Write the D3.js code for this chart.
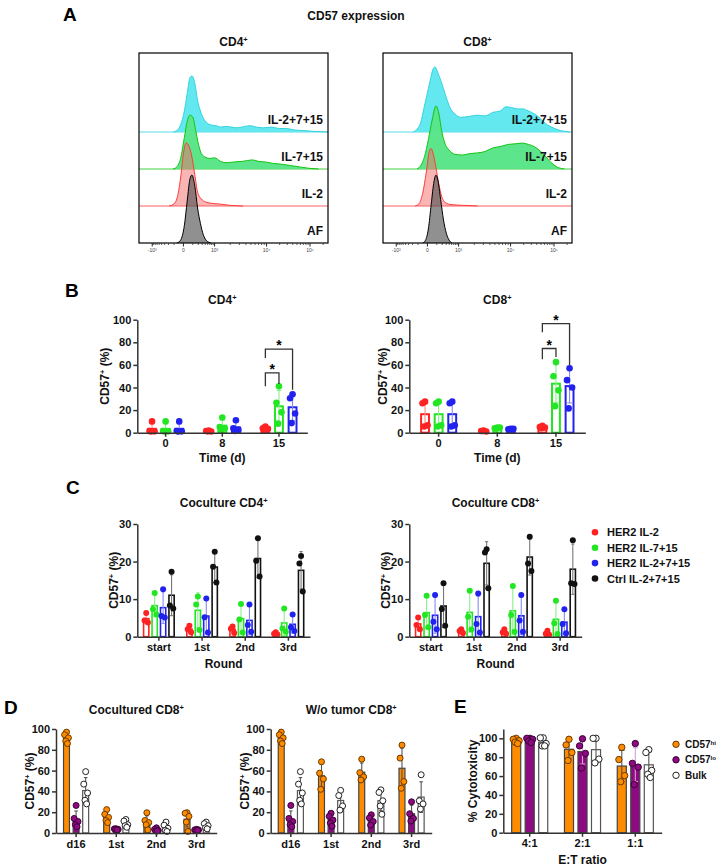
<!DOCTYPE html>
<html>
<head>
<meta charset="utf-8">
<title>CD57 expression</title>
<script src="https://d3js.org/d3.v7.min.js"></script>
<style>
  body { margin: 0; background: #fff; }
  svg { font-family: "Liberation Sans", Arial, sans-serif; }
  .axis path, .axis line { stroke: #333; stroke-width: 1.5; }
  .axis text { font-size: 11px; font-weight: bold; fill: #111; font-family: "Liberation Sans", Arial, sans-serif; }
  .ttl { font-size: 12px; font-weight: bold; fill: #111; }
  .letter { font-size: 19px; font-weight: bold; fill: #000; }
  .leg { font-size: 11px; font-weight: bold; fill: #111; }
  .leg-e { font-size: 10px; font-weight: bold; fill: #111; }
</style>
</head>
<body>
<script>
// ---------- A: histograms, x in display channel (0-100), height in % of mode
var histLabels = ['IL-2+7+15', 'IL-7+15', 'IL-2', 'AF'];
var histTickPos = [7, 23.5, 40, 67.5, 90.5];
var histTickText = ['-10\u00b3', '0', '10\u00b3', '10\u2074', '10\u2075'];

var cd4Combo = [[18,0],[20,2],[22,10],[24,30],[25.5,55],[27,78],[28,80],[29.5,70],[31,45],[32.5,30],[34,20],[36,13],[38,10],[41,9],[43,7],[46,8],[49,7],[52,6],[56,8],[59,9],[62,7],[66,6],[70,7],[74,5],[78,5],[82,3],[87,2],[92,1],[100,0]];
var cd4Il715 = [[18,0],[20,3],[22,15],[24,45],[25.5,68],[27,77],[28.5,74],[30,55],[31.5,35],[33,22],[35,17],[37.5,15],[40,16],[41.5,14],[43,11],[46,9],[50,10],[55,11],[60,13],[63,11],[67,10],[71,8],[75,7],[80,5],[85,3],[90,1],[95,0]];
var cd4Il2 = [[16,0],[18,2],[20,10],[22,40],[23.5,75],[25,90],[26.5,85],[28,70],[29.5,45],[31,20],[33,10],[35,6],[38,4],[42,3],[48,1],[55,0]];
var cd4Af = [[20,0],[22,4],[24,25],[25.5,60],[27,92],[28,97],[29.5,82],[31,50],[32.5,28],[34,12],[35.5,4],[37,1],[38,0]];

var cd8Combo = [[16,0],[18,4],[20,14],[21.5,32],[23,50],[25,74],[26.5,90],[27.5,93],[29,85],[30.5,74],[32,62],[34,45],[36,32],[38,26],[41,21],[45,22],[50,24],[54,23],[58,28],[62,30],[65,36],[68,35],[71,33],[74,33],[77,30],[80,26],[83,20],[86,12],[90,6],[94,2],[99,0]];
var cd8Il715 = [[18,0],[20,5],[22,18],[24,42],[26,70],[28,90],[29.5,80],[31,55],[33,35],[35,27],[38,21],[42,20],[46,22],[50,23],[54,25],[58,30],[62,32],[66,35],[70,36],[74,37],[77,35],[80,32],[83,26],[86,18],[89,9],[92,3],[96,0]];
var cd8Il2 = [[17,0],[19,3],[21,18],[23,50],[24.5,78],[25.5,82],[26.5,75],[28,55],[29.5,32],[31,14],[33,5],[36,2],[42,1],[50,0]];
var cd8Af = [[21,0],[22.5,4],[24,20],[25.5,55],[27,88],[28,97],[29,90],[30.5,62],[32,33],[33.5,14],[35,4],[36.5,0]];

// ---------- B: CD57+ (%) by day
var days = ['0', '8', '15'];
var bCd4Il2 = [[10, 1.5, 1.2, 1.0], [2, 1.5, 1, 1.2], [5.5, 4, 3.5, 2.5]];
var bCd4Il715 = [[10, 1.5, 1.2, 1.0], [13.5, 5, 4, 2.5], [41, 26.5, 18, 8]];
var bCd4Combo = [[10, 1.5, 1.2, 1.0], [11, 4, 2.5, 1.5], [34, 30.5, 17, 8.5]];
var bCd8Il2 = [[27.5, 26, 6.5, 5.5], [2, 1.5, 1, 1.5], [6, 5, 4.5, 4]];
var bCd8Il715 = [[27.5, 26, 6.5, 5.5], [4.5, 4, 4.5, 3.5], [62.5, 50, 37.5, 23.5]];
var bCd8Combo = [[27.5, 26, 6.5, 5.5], [3.5, 3, 3.5, 2.5], [57, 46.5, 40, 21.5]];
// brackets: day, from series, to series, level, left leg end, right leg end
var bSigCd4 = [['15', 0, 1, 53, 41, 43], ['15', 0, 2, 74, 66, 38]];
var bSigCd8 = [['15', 0, 1, 74.5, 65, 67], ['15', 0, 2, 96.5, 89, 60]];

// ---------- C: coculture rounds
var rounds = ['start', '1st', '2nd', '3rd'];
var cGroups = ['HER2 IL-2', 'HER2 IL-7+15', 'HER2 IL-2+7+15', 'Ctrl IL-2+7+15'];
var cCd4Il2 = [[6.3, 4.3, 3.8], [2.9, 2.0, 1.2], [2.7, 2.1, 1.0], [1.2, 0.8, 0.6]];
var cCd4Il715 = [[11.6, 7.3, 5.9], [10.7, 8.6, 1.8], [8.7, 4.6, 1.1], [7.5, 2.2, 1.3]];
var cCd4Combo = [[12.6, 5.5, 5.1], [10.2, 5.2, 1.1], [8.6, 3.1, 1.3], [5.9, 2.5, 1.5]];
var cCd4Ctrl = [[17.3, 8.3, 7.5], [22.6, 18.6, 14.4], [26.2, 20.2, 16.0], [21.5, 19.5, 12.0]];
var cCd8Il2 = [[5.1, 3.1, 2.0], [2.0, 1.5, 1.0], [2.0, 1.2, 0.8], [1.6, 0.8, 0.5]];
var cCd8Il715 = [[10.9, 5.8, 2.5], [12.2, 5.3, 1.9], [13.5, 5.8, 1.3], [9.6, 3.6, 0.7]];
var cCd8Combo = [[11.1, 4.0, 2.0], [11.5, 3.4, 1.1], [11.1, 4.3, 1.3], [7.3, 3.4, 0.9]];
var cCd8Ctrl = [[14.2, 7.4, 2.9], [23.3, 22.4, 12.9], [26.6, 19.5, 17.5], [25.7, 14.2, 14.0]];

// ---------- D: sorted CD57hi / CD57lo / bulk
var dRounds = ['d16', '1st', '2nd', '3rd'];
var dCoHi = [[97, 94.5, 91.5, 88.5, 86], [22.5, 18, 15, 12, 10], [19.5, 12, 10, 8, 3], [19.5, 19, 16, 10.5, 1.5]];
var dCoLo = [[26.5, 14, 11, 8, 6], [4, 4, 3.5, 3.5, 3], [5, 3.5, 2.5, 2, 2], [3.5, 3, 3, 2.5, 2.5]];
var dCoBulk = [[59, 47, 38.5, 31.5, 28], [13, 11.5, 8, 7, 5.5], [10.5, 7.5, 4.5, 2.5, 1.5], [10.5, 9, 7, 5, 4]];
var dWoHi = [[97, 94.5, 91.5, 88.5, 86], [68.5, 57.5, 52, 42], [71, 58, 54, 51], [84.5, 72, 49.5, 43]];
var dWoLo = [[26.5, 14, 11, 8, 6], [19, 16, 12.5, 9.5, 6.5], [17.5, 14.5, 11, 7.5], [30, 18.5, 14, 11.5]];
var dWoBulk = [[59, 47, 38.5, 31.5, 28], [41, 36, 26, 22], [41.5, 39, 31, 26, 18], [56, 31, 28, 23]];

// ---------- E: cytotoxicity
var ratios = ['4:1', '2:1', '1:1'];
var eHi = [[100, 99, 97.5, 96, 94.5], [99, 93, 85, 76.5], [90.5, 77.5, 60.5, 54]];
var eLo = [[100, 100, 99, 97, 95.5], [99.5, 92, 84, 68.5], [94.5, 73.5, 69.5, 51]];
var eBulk = [[100.5, 100.5, 94.5, 92, 92], [100, 100, 78, 74], [88, 85, 66, 62, 58.5]];

var RED = '#ff2222', GREEN = '#22e622', BLUE = '#2222ee', BLACK = '#111';
var ORANGE = '#ff8c00', PURPLE = '#8e0a82';

var svg = d3.select('body').append('svg').attr('width', 718).attr('height', 868);

// text with a superscript part: parts = [[text, isSup], ...]
function richText(sel, parts) {
  parts.forEach(function (p) {
    var t = sel.append('tspan').text(p[0]);
    if (p[1]) t.attr('baseline-shift', 'super').attr('font-size', '0.62em');
  });
  return sel;
}

function label(x, y, parts, cls, anchor) {
  var t = svg.append('text').attr('class', cls || 'ttl').attr('x', x).attr('y', y)
    .attr('text-anchor', anchor || 'middle');
  return richText(t, parts);
}

// ================= A =================
var histStyles = [
  { fill: '#62e8ee', stroke: '#35d3e0', op: 1 },
  { fill: '#58e488', stroke: '#12c412', op: 0.97 },
  { fill: '#f46a6a', stroke: '#ff3b3b', op: 0.5 },
  { fill: '#555', stroke: '#000', op: 0.65 }
];

function histPanel(left, top, w, h, title, curves) {
  var x = d3.scaleLinear().domain([0, 100]).range([left, left + w]);
  var hy = d3.scaleLinear().domain([0, 100]).range([0, 70]);
  var step = 37, bottom = top + h;
  var g = svg.append('g');
  curves.forEach(function (c, i) {
    var base = bottom - (3 - i) * step;
    var st = histStyles[i];
    if (i < 3) {
      g.append('line').attr('x1', left).attr('x2', left + w).attr('y1', base).attr('y2', base)
        .attr('stroke', st.stroke).attr('stroke-width', 1).attr('opacity', 0.8);
    }
    var area = d3.area().x(function (d) { return x(d[0]); }).y0(base)
      .y1(function (d) { return base - hy(d[1]); }).curve(d3.curveMonotoneX);
    var line = d3.line().x(function (d) { return x(d[0]); })
      .y(function (d) { return base - hy(d[1]); }).curve(d3.curveMonotoneX);
    g.append('path').attr('d', area(c)).attr('fill', st.fill).attr('fill-opacity', st.op);
    g.append('path').attr('d', line(c)).attr('fill', 'none').attr('stroke', st.stroke).attr('stroke-width', 1);
    g.append('text').attr('x', left + w - 5).attr('y', base - 8).attr('text-anchor', 'end')
      .attr('class', 'ttl').text(histLabels[i]);
  });
  g.append('rect').attr('x', left).attr('y', top).attr('width', w).attr('height', h)
    .attr('fill', 'none').attr('stroke', '#000').attr('stroke-width', 1.2);

  // minor ticks on a log-like layout between the labelled positions
  var minor = [];
  [[23.5, 7], [23.5, 40], [40, 67.5], [67.5, 90.5], [90.5, 113.5]].forEach(function (p) {
    for (var k = 2; k <= 9; k++) {
      var v = p[0] + (p[1] - p[0]) * Math.log10(k);
      if (v > 0 && v < 100) minor.push(v);
    }
  });
  g.selectAll('.mn').data(minor).join('line').attr('x1', x).attr('x2', x)
    .attr('y1', bottom).attr('y2', bottom + 2).attr('stroke', '#333').attr('stroke-width', 0.8);
  g.selectAll('.mj').data(histTickPos).join('line').attr('x1', x).attr('x2', x)
    .attr('y1', bottom).attr('y2', bottom + 3.5).attr('stroke', '#222').attr('stroke-width', 1);
  g.selectAll('.tl').data(histTickPos).join('text').attr('x', x).attr('y', bottom + 9)
    .attr('text-anchor', 'middle').attr('font-size', '5px').attr('fill', '#444')
    .text(function (d, i) { return histTickText[i]; });
  label(left + w / 2, 46, [[title, false], ['+', true]]);
}

label(63, 21, [['A', false]], 'letter', 'start');
label(356, 19.5, [['CD57 expression', false]]);
histPanel(139, 53, 189, 190, 'CD4', [cd4Combo, cd4Il715, cd4Il2, cd4Af]);
histPanel(383, 53, 189, 190, 'CD8', [cd8Combo, cd8Il715, cd8Il2, cd8Af]);

// ================= bar charts =================
var jitterPattern = [0, -0.32, 0.32, -0.12, 0.16];

function barChart(o) {
  var g = svg.append('g');
  var x = d3.scaleBand().domain(o.cats).range([o.left, o.left + o.width]);
  var y = d3.scaleLinear().domain([0, o.yMax]).range([o.top + o.height, o.top]);
  var inner = d3.scaleBand().domain(d3.range(o.series.length))
    .range([-o.span / 2, o.span / 2]).padding(o.pad);
  var bw = inner.bandwidth();

  function cx(cat, si) { return x(cat) + x.bandwidth() / 2 + inner(si) + bw / 2; }

  o.series.forEach(function (s, si) {
    var rows = s.values.map(function (pts, ci) {
      return { cat: o.cats[ci], pts: pts, mean: d3.mean(pts), sd: d3.deviation(pts) };
    });
    var sg = g.append('g');
    sg.selectAll('rect').data(rows).join('rect')
      .attr('x', function (d) { return cx(d.cat, si) - bw / 2; })
      .attr('y', function (d) { return y(d.mean); })
      .attr('width', bw)
      .attr('height', function (d) { return y(0) - y(d.mean); })
      .attr('fill', s.fill).attr('stroke', s.stroke).attr('stroke-width', o.barStroke);

    var eg = sg.append('g').attr('stroke', s.err).attr('stroke-width', 1.1);
    rows.forEach(function (d) {
      var c = cx(d.cat, si);
      var lo = Math.max(0, d.mean - d.sd), hi = d.mean + d.sd;
      eg.append('line').attr('x1', c).attr('x2', c).attr('y1', y(lo)).attr('y2', y(hi));
      eg.append('line').attr('x1', c - bw * 0.3).attr('x2', c + bw * 0.3).attr('y1', y(hi)).attr('y2', y(hi));
      eg.append('line').attr('x1', c - bw * 0.3).attr('x2', c + bw * 0.3).attr('y1', y(lo)).attr('y2', y(lo));
    });

    rows.forEach(function (d) {
      sg.selectAll(null).data(d.pts).join('circle')
        .attr('cx', function (v, i) { return cx(d.cat, si) + jitterPattern[i % 5] * bw; })
        .attr('cy', function (v) { return y(v); })
        .attr('r', o.r)
        .attr('fill', s.dot).attr('stroke', s.dotStroke || 'none').attr('stroke-width', 1);
    });
  });

  // significance brackets
  (o.sig || []).forEach(function (b) {
    var xa = cx(b[0], b[1]), xb = cx(b[0], b[2]);
    g.append('path')
      .attr('d', 'M' + xa + ',' + y(b[4]) + 'V' + y(b[3]) + 'H' + xb + 'V' + y(b[5]))
      .attr('fill', 'none').attr('stroke', '#333').attr('stroke-width', 1.3);
    g.append('text').attr('x', (xa + xb) / 2).attr('y', y(b[3]) + 1).attr('text-anchor', 'middle')
      .attr('font-size', '14px').attr('font-weight', 'bold').text('*');
  });

  g.append('g').attr('class', 'axis').attr('transform', 'translate(' + o.left + ',0)')
    .call(d3.axisLeft(y).tickValues(o.yTicks).tickSize(4).tickPadding(2).tickSizeOuter(0));
  g.append('g').attr('class', 'axis').attr('transform', 'translate(0,' + (o.top + o.height) + ')')
    .call(d3.axisBottom(x).tickSize(4).tickPadding(3).tickSizeOuter(0));

  var mid = o.left + o.width / 2;
  if (o.title) label(mid, o.titleY, o.title);
  if (o.xTitle) label(mid, o.xTitleY, [[o.xTitle, false]], o.xTitleCls);
  var yl = svg.append('text').attr('class', o.yLabelCls || 'ttl').attr('text-anchor', 'middle')
    .attr('transform', 'translate(' + o.yLabelX + ',' + (o.top + o.height / 2) + ') rotate(-90)')
    .attr('dy', '0.35em');
  richText(yl, o.yLabel);
}

var cd57Label = [['CD57', false], ['+', true], [' (%)', false]];

function bSeries(a, b, c) {
  return [
    { values: a, fill: '#fff', stroke: RED, err: '#ff8a8a', dot: RED },
    { values: b, fill: '#fff', stroke: GREEN, err: '#8af08a', dot: GREEN },
    { values: c, fill: '#fff', stroke: BLUE, err: '#8a8af5', dot: BLUE }
  ];
}

// ================= B =================
label(65, 297, [['B', false]], 'letter', 'start');
barChart({ left: 137.3, top: 319.7, width: 170, height: 113, cats: days, yMax: 100,
  yTicks: [0, 20, 40, 60, 80, 100], span: 46.5, pad: 0.42, barStroke: 2, r: 3.3,
  series: bSeries(bCd4Il2, bCd4Il715, bCd4Combo), sig: bSigCd4,
  title: [['CD4', false], ['+', true]], titleY: 304, xTitle: 'Time (d)', xTitleY: 462,
  yLabel: cd57Label, yLabelX: 105 });
barChart({ left: 409.3, top: 319.7, width: 176, height: 113, cats: days, yMax: 100,
  yTicks: [0, 20, 40, 60, 80, 100], span: 46.5, pad: 0.42, barStroke: 2, r: 3.3,
  series: bSeries(bCd8Il2, bCd8Il715, bCd8Combo), sig: bSigCd8,
  title: [['CD8', false], ['+', true]], titleY: 304, xTitle: 'Time (d)', xTitleY: 462,
  yLabel: cd57Label, yLabelX: 383 });

// ================= C =================
function cSeries(a, b, c, d) {
  return bSeries(a, b, c).concat([{ values: d, fill: '#fff', stroke: BLACK, err: '#777', dot: BLACK }]);
}
label(66, 494, [['C', false]], 'letter', 'start');
barChart({ left: 137.3, top: 524, width: 172.7, height: 112.7, cats: rounds, yMax: 30,
  yTicks: [0, 10, 20, 30], span: 37, pad: 0.38, barStroke: 1.6, r: 3,
  series: cSeries(cCd4Il2, cCd4Il715, cCd4Combo, cCd4Ctrl),
  title: [['Coculture CD4', false], ['+', true]], titleY: 507, xTitle: 'Round', xTitleY: 668,
  yLabel: cd57Label, yLabelX: 114 });
barChart({ left: 409.3, top: 524, width: 172.4, height: 112.7, cats: rounds, yMax: 30,
  yTicks: [0, 10, 20, 30], span: 37, pad: 0.38, barStroke: 1.6, r: 3,
  series: cSeries(cCd8Il2, cCd8Il715, cCd8Combo, cCd8Ctrl),
  title: [['Coculture CD8', false], ['+', true]], titleY: 507, xTitle: 'Round', xTitleY: 668,
  yLabel: cd57Label, yLabelX: 386 });

var cColors = [RED, GREEN, BLUE, BLACK];
cGroups.forEach(function (name, i) {
  var yy = 532.3 + i * 15.4;
  svg.append('circle').attr('cx', 595).attr('cy', yy).attr('r', 3.3).attr('fill', cColors[i]);
  svg.append('text').attr('class', 'leg').attr('x', 607).attr('y', yy + 4).text(name);
});

// ================= D =================
function dSeries(a, b, c) {
  return [
    { values: a, fill: ORANGE, stroke: '#444', err: '#555', dot: ORANGE, dotStroke: '#6a3a00' },
    { values: b, fill: PURPLE, stroke: '#444', err: '#555', dot: PURPLE, dotStroke: '#3a0035' },
    { values: c, fill: '#fff', stroke: '#555', err: '#555', dot: '#fff', dotStroke: '#222' }
  ];
}
label(4, 714, [['D', false]], 'letter', 'start');
barChart({ left: 56, top: 729, width: 160.7, height: 104, cats: dRounds, yMax: 100,
  yTicks: [0, 20, 40, 60, 80, 100], span: 32.4, pad: 0.38, barStroke: 1.2, r: 3,
  series: dSeries(dCoHi, dCoLo, dCoBulk),
  title: [['Cocultured CD8', false], ['+', true]], titleY: 714,
  yLabel: cd57Label, yLabelX: 30 });
barChart({ left: 270.7, top: 729, width: 161, height: 104, cats: dRounds, yMax: 100,
  yTicks: [0, 20, 40, 60, 80, 100], span: 32.4, pad: 0.38, barStroke: 1.2, r: 3,
  series: dSeries(dWoHi, dWoLo, dWoBulk),
  title: [['W/o tumor CD8', false], ['+', true]], titleY: 714,
  yLabel: cd57Label, yLabelX: 245 });

// ================= E =================
label(454, 713, [['E', false]], 'letter', 'start');
barChart({ left: 503.3, top: 728.9, width: 158.4, height: 103.8, cats: ratios, yMax: 110,
  yTicks: [0, 20, 40, 60, 80, 100], span: 45, pad: 0.33, barStroke: 1.2, r: 3.2,
  series: [
    { values: eHi, fill: ORANGE, stroke: '#444', err: '#555', dot: ORANGE, dotStroke: '#6a3a00' },
    { values: eLo, fill: PURPLE, stroke: '#444', err: '#d9a0d2', dot: PURPLE, dotStroke: '#3a0035' },
    { values: eBulk, fill: '#fff', stroke: '#555', err: '#555', dot: '#fff', dotStroke: '#222' }
  ],
  xTitle: 'E:T ratio', xTitleY: 864, xTitleCls: 'ttl',
  yLabel: [['% Cytotoxicity', false]], yLabelX: 473 });

var eNames = [[['CD57', false], ['hi', true]], [['CD57', false], ['lo', true]], [['Bulk', false]]];
var eColors = [[ORANGE, '#6a3a00'], [PURPLE, '#3a0035'], ['#fff', '#222']];
eNames.forEach(function (parts, i) {
  var yy = 744.3 + i * 15.5;
  svg.append('circle').attr('cx', 676).attr('cy', yy).attr('r', 3.2)
    .attr('fill', eColors[i][0]).attr('stroke', eColors[i][1]).attr('stroke-width', 1);
  var t = svg.append('text').attr('class', 'leg-e').attr('x', 685).attr('y', yy + 3.5);
  richText(t, parts);
});
</script>
</body>
</html>
